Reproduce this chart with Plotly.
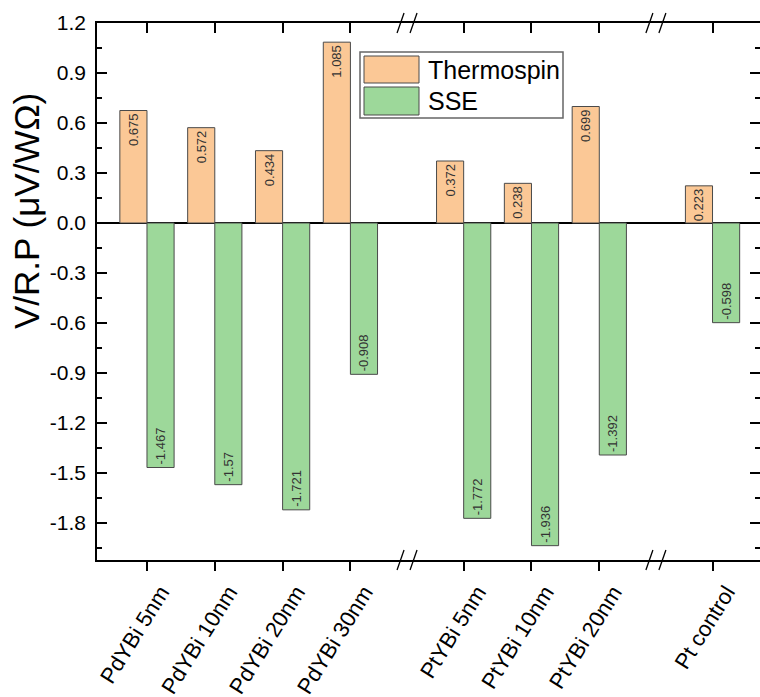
import plotly.graph_objects as go

# ---------------- data ----------------
categories = ["PdYBi 5nm", "PdYBi 10nm", "PdYBi 20nm", "PdYBi 30nm",
              "PtYBi 5nm", "PtYBi 10nm", "PtYBi 20nm", "Pt control"]
groups = [0, 0, 0, 0, 1, 1, 1, 2]          # axis-break segment of each category
thermospin = [0.675, 0.572, 0.434, 1.085, 0.372, 0.238, 0.699, 0.223]
sse = [-1.467, -1.57, -1.721, -0.908, -1.772, -1.936, -1.392, -0.598]
y_tickvals = [1.2, 0.9, 0.6, 0.3, 0.0, -0.3, -0.6, -0.9, -1.2, -1.5, -1.8]
y_ticktext = ["1.2", "0.9", "0.6", "0.3", "0.0", "-0.3", "-0.6", "-0.9", "-1.2", "-1.5", "-1.8"]

# ---------------- layout helpers ----------------
FONT = "Liberation Sans, Arial, sans-serif"
GAP = 0.67  # extra space added by each axis break
xpos = [i + GAP * g for i, g in enumerate(groups)]
breaks = []
for i in range(1, len(xpos)):
    if groups[i] != groups[i - 1]:
        breaks.append((xpos[i] + xpos[i - 1]) / 2)

XR = [-0.737, 9.04]
YR = [-2.022, 1.2]

ORANGE = "#FBC896"
GREEN = "#9DD89A"
EDGE = "#4a4a4a"

fig = go.Figure()
fig.add_trace(go.Bar(
    x=xpos, y=thermospin, name="Thermospin",
    marker=dict(color=ORANGE, line=dict(color=EDGE, width=1)),
    text=[str(v) for v in thermospin], textposition="inside",
    insidetextanchor="end", textangle=-90, constraintext="none",
    textfont=dict(family=FONT, size=13, color="#333333"),
    showlegend=False,
))
fig.add_trace(go.Bar(
    x=xpos, y=sse, name="SSE",
    marker=dict(color=GREEN, line=dict(color=EDGE, width=1)),
    text=[str(v) for v in sse], textposition="inside",
    insidetextanchor="end", textangle=-90, constraintext="none",
    textfont=dict(family=FONT, size=13, color="#333333"),
    showlegend=False,
))
# invisible trace to drive the top axis
fig.add_trace(go.Scatter(x=[xpos[0]], y=[0], xaxis="x2", mode="markers",
                         marker=dict(opacity=0), showlegend=False, hoverinfo="skip"))

L, T, W, H = 97, 23, 663, 537   # plot box in pixels


def px(xp):
    return (xp - L) / W


def py(yp):
    return (T + H - yp) / H


shapes = []
annotations = []

# axis-break marks on top and bottom axes
for b in breaks:
    for yy in (0, 1):
        for dx0, dx1 in ((-10, -3), (3, 10)):
            shapes.append(dict(type="line", xref="x", yref="paper",
                               xsizemode="pixel", xanchor=b, x0=dx0, x1=dx1,
                               ysizemode="pixel", yanchor=yy, y0=-10, y1=10,
                               line=dict(color="black", width=1.3)))

# legend box (drawn by hand to match the large swatches)
shapes.append(dict(type="rect", xref="paper", yref="paper",
                   x0=px(360), x1=px(563), y0=py(118), y1=py(52),
                   line=dict(color="#666666", width=1.5), fillcolor="white"))
for (c, ytop, ybot, label) in ((ORANGE, 56, 83, "Thermospin"), (GREEN, 87, 115, "SSE")):
    shapes.append(dict(type="rect", xref="paper", yref="paper",
                       x0=px(364), x1=px(419), y0=py(ybot), y1=py(ytop),
                       line=dict(color=EDGE, width=1), fillcolor=c))
    annotations.append(dict(text=label, xref="paper", yref="paper",
                            x=px(426), y=py((ytop + ybot) / 2), xanchor="left",
                            yanchor="middle", showarrow=False,
                            font=dict(family=FONT, size=25, color="black")))

# y-axis title
annotations.append(dict(text="V/R.P (μV/WΩ)", xref="paper", yref="paper",
                        x=px(27), y=py(211), textangle=-90, showarrow=False,
                        xanchor="center", yanchor="middle",
                        font=dict(family=FONT, size=35, color="black")))

fig.update_layout(
    width=760, height=697,
    margin=dict(l=L, r=760 - L - W, t=T, b=697 - T - H, autoexpand=False),
    paper_bgcolor="white", plot_bgcolor="white",
    barmode="group", bargap=0.2, bargroupgap=0,
    font=dict(family=FONT, color="black"),
    shapes=shapes, annotations=annotations,
    xaxis=dict(range=XR, tickvals=xpos, ticktext=categories, tickangle=-58,
               ticks="outside", ticklen=9, tickwidth=1.5, tickcolor="black",
               ticklabelshift=14, automargin=False,
               showline=True, linecolor="black", linewidth=1.5, mirror=False,
               showgrid=False, zeroline=False,
               tickfont=dict(family=FONT, size=22, color="black")),
    xaxis2=dict(range=XR, overlaying="x", side="top", tickvals=xpos,
                showticklabels=False, ticks="inside", ticklen=10, tickwidth=1.5,
                tickcolor="black", showline=True, linecolor="black", linewidth=1.5,
                showgrid=False, zeroline=False, automargin=False),
    yaxis=dict(range=YR, tickvals=y_tickvals, ticktext=y_ticktext,
               ticks="inside", ticklen=10, tickwidth=1.5, tickcolor="black",
               ticklabelstandoff=5, automargin=False,
               minor=dict(dtick=0.15, tick0=0, ticks="inside", ticklen=5,
                          tickwidth=1.5, tickcolor="black", showgrid=False),
               showline=True, linecolor="black", linewidth=1.5, mirror="ticks",
               showgrid=False, zeroline=True, zerolinecolor="black", zerolinewidth=1.5,
               tickfont=dict(family=FONT, size=21, color="black")),
)

fig.write_html("out.html", config={"displayModeBar": False},
               post_script="document.body.style.margin='0px';document.body.style.overflow='hidden';")
